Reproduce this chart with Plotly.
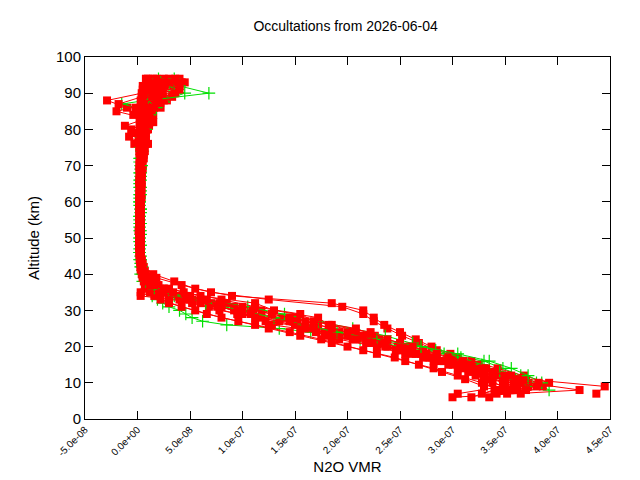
import plotly.graph_objects as go

# Altitude grids (km)
ALT_A = [6, 8, 10, 12, 14, 16, 18, 20, 22, 24, 26, 28, 30, 32, 34, 36, 38, 40, 42, 44,
         46, 48, 50, 52, 54, 56, 58, 60, 62, 64, 66, 68, 70, 72, 74, 76, 78, 80, 82, 84,
         86, 88, 90, 92, 94]
ALT_B = [7, 9, 11, 13, 15, 17, 19, 21, 23, 25, 27, 29, 31, 33, 35, 37, 39, 41, 43, 45,
         47, 49, 51, 53, 55, 57, 59, 61, 63, 65, 67, 69, 71, 73, 75, 77, 79, 81, 83, 85,
         87, 89, 91, 93]
ALT_G1 = [8, 10, 12, 14, 16, 18, 20, 22, 24, 25, 26, 27, 28, 29, 30, 31, 32, 33, 34, 36,
          38, 40, 42, 44, 46, 48, 50, 52, 54, 56, 58, 60, 62, 64, 66, 68, 70, 72, 74, 76,
          78, 80, 82, 84, 86, 88, 90, 92, 94]

# N2O VMR in ppbv (converted to VMR when plotted)
R1 = [300, 421, 372, 345, 322, 298, 270, 248, 205, 192, 150, 138, 92, 70, 38, 19, 10, 6, 4, 3,
      3, 2, 2, 3, 2, 2, 3, 3, 2, 3, 4, 3, 4, 5, 3, 6, 4, 9, 6, 12, 5, 28, 10, 22, 15]
R3 = [None, 345, 328, 305, 282, 255, 228, 200, 175, 145, 112, 80, 55, 30, 16, 9, 6, 4, 3, 2,
      2, 3, 2, 1, 2, 3, 2, 2, 3, 2, 3, 2, 3, 4, 2, -3, 5, 2, 8, -4, -10, -29, 4, 15, 30]
R5 = [None, None, 392, 368, 343, 318, 298, 280, 265, 250, 235, 225, 215, 185, 90, 55, 35, 15, 6, 4,
      3, 3, 2, 3, 3, 2, 2, 3, 4, 3, 2, 3, 5, 4, 6, 3, 7, 10, 4, 15, 22, 8, 35, 12, 40]
R7 = [None, 360, 338, 322, 305, 282, 255, 228, 192, 178, 128, 118, 78, 52, 30, 14, 7, 5, 3, 3,
      2, 2, 3, 2, 2, 2, 3, 2, 3, 3, 2, 4, 3, 2, 5, 8, 2, -6, 10, 6, -2, 25, 36, 5, 8]
R9 = [335, 352, 382, 356, 332, 310, 285, 262, 238, 222, 182, 172, 130, 112, 60, 30, 15, 8, 5, 4,
      3, 2, 3, 3, 2, 3, 2, 3, 2, 4, 3, 3, 2, 6, 4, 10, 6, 3, 12, 8, 16, 3, 20, 40, 36]
R11 = [318, 340, 360, 338, 315, 292, 265, 236, 208, 170, 160, 112, 95, 60, 3, 25, 9, 5, 4, 3,
       3, 2, 2, 2, 3, 2, 3, 2, 2, 3, 3, 4, 2, 3, 7, 4, -8, 6, 15, 3, 11, 20, 6, 26, 18]
R13 = [None, 355, 350, 330, 310, 288, 262, 238, 220, 200, 172, 150, 118, 85, 50, 22, 10, 6, 4, 3,
       3, 2, 3, 2, 3, 2, 2, 3, 3, 2, 3, 4, 3, 5, 4, 7, 3, 6, 11, 5, 9, 20, 14, 34, 25]
R15 = [None, 370, 365, 350, 328, 300, 275, 255, 230, 205, 185, 145, 110, 78, 45, 25, 12, 7, 4, 3,
       2, 3, 2, 2, 3, 3, 2, 2, 3, 3, 2, 3, 4, 3, 2, 5, 8, 4, 7, 14, 3, 15, 24, 18, 10]

R2 = [437, 445, 370, 338, 312, 285, 258, 230, 210, 165, 152, 110, 92, 52, 27, 13, 7, 5, 4, 3,
      3, 2, 3, 2, 3, 2, 3, 4, 3, 2, 4, 5, 3, 6, 4, 8, 5, 11, 7, 3, 16, 8, 38, 12]
R4 = [352, 372, 358, 342, 325, 305, 285, 268, 252, 238, 225, 215, 195, 125, 70, 42, 18, 7, 5, 3,
      3, 2, 3, 2, 2, 3, 2, 2, 3, 3, 2, 4, 3, 5, 2, 7, 4, 9, 5, 13, 7, 24, 15, 45]
R6 = [None, 330, 312, 290, 268, 245, 215, 185, 155, 125, 96, 66, 42, 22, 12, 7, 5, 3, 3, 2,
      2, 2, 3, 2, 2, 3, 2, 3, 2, 2, 3, 3, 4, 2, 4, 1, 6, -12, 8, -20, 10, 12, 5, 42]
R8 = [365, 386, 362, 340, 318, 296, 272, 250, 226, 208, 168, 155, 112, 80, 44, 20, 10, 6, 4, 3,
      2, 3, 3, 2, 3, 3, 2, 2, 3, 4, 3, 2, 4, 3, 6, 5, 3, 10, 13, 7, 19, 33, 9, 20]
R10 = [305, 348, 332, 315, 296, 272, 246, 218, 182, 168, 122, 108, 76, 46, 24, 12, 6, 4, 3, 3,
       2, 2, 2, 3, 2, 2, 3, 3, 2, 2, 3, 2, 3, 4, 2, 5, -2, 7, 2, 10, -18, 4, 14, 38]
R12 = [342, 380, 350, 328, 306, 280, 252, 224, 200, 160, 145, 100, 80, 50, 3, 14, 8, 5, 4, 3,
       3, 3, 2, 2, 3, 2, 2, 3, 3, 2, 4, 3, 3, 5, 4, 3, 8, 4, 12, 9, 5, 18, 40, 24]
R14 = [None, 362, 348, 330, 305, 278, 250, 218, 188, 155, 135, 95, 68, 40, 20, 9, 5, 4, 3, 2,
       3, 2, 2, 3, 2, 3, 2, 2, 3, 2, 3, 4, 2, 3, 5, 3, 7, 2, 9, 6, 12, 22, 10, 28]
R16 = [328, 358, 338, 322, 300, 276, 255, 235, 215, 185, 160, 128, 100, 66, 34, 16, 8, 5, 3, 3,
       2, 3, 2, 3, 2, 2, 3, 2, 3, 3, 2, 3, 3, 4, 2, 4, 6, 3, 8, 11, 6, 14, 20, 30]

G1 = [392, 380, 365, 348, 330, 292, 250, 212, 165, 135, 85, 62, 52, 46, 40, 30, 24, 19, 14, 9,
      5, 3, 3, 2, 2, 3, 2, 2, 3, 2, 3, 2, 2, 3, 3, 2, 4, 3, 5, 4, 6, 8, 5, 10, 14, 25, 45, 30, 20]
G2 = [None, 372, 360, 345, 328, 308, 284, 262, 236, 205, 172, 140, 105, 62, 30, 14, 7, 5, 3, 3,
      2, 2, 3, 2, 2, 3, 2, 2, 3, 2, 3, 3, 2, 4, 3, 5, 4, 7, 9, 12, -15, 30, 38, 22]
G3 = [None, None, 385, 372, 356, 335, 305, 270, 228, 190, 158, 130, 100, 65, 35, 16, 8, 5, 4, 3,
      2, 3, 2, 3, 2, 2, 3, 2, 3, 2, 2, 3, 3, 2, 4, 6, 3, 8, 5, 12, 18, 10, 68, 40, 35]

X_TICKS = [-5e-8, 0, 5e-8, 1e-7, 1.5e-7, 2e-7, 2.5e-7, 3e-7, 3.5e-7, 4e-7, 4.5e-7]
X_TICK_TEXT = ["-5.0e-08", "0.0e+00", "5.0e-08", "1.0e-07", "1.5e-07", "2.0e-07",
               "2.5e-07", "3.0e-07", "3.5e-07", "4.0e-07", "4.5e-07"]

red_profiles = [(R1, ALT_A), (R2, ALT_B), (R3, ALT_A), (R4, ALT_B), (R5, ALT_A), (R6, ALT_B),
                (R7, ALT_A), (R8, ALT_B), (R9, ALT_A), (R10, ALT_B), (R11, ALT_A), (R12, ALT_B),
                (R13, ALT_A), (R14, ALT_B), (R15, ALT_A), (R16, ALT_B)]
green_profiles = [(G1, ALT_G1), (G2, ALT_B), (G3, ALT_A)]


def to_vmr(vals):
    return [None if v is None else v * 1e-9 for v in vals]


fig = go.Figure()

order = [("r", 0), ("r", 1), ("r", 12), ("g", 0), ("r", 2), ("r", 3), ("r", 4), ("r", 13),
         ("g", 1), ("r", 5), ("r", 6), ("r", 7), ("r", 14), ("g", 2), ("r", 8), ("r", 9),
         ("r", 10), ("r", 11), ("r", 15)]
for kind, i in order:
    if kind == "r":
        vals, alt = red_profiles[i]
        fig.add_trace(go.Scatter(
            x=to_vmr(vals), y=alt, mode="lines+markers",
            line=dict(color="#ff0000", width=1),
            marker=dict(symbol="square", size=8, color="#ff0000", line=dict(width=0)),
            showlegend=False, connectgaps=False))
    else:
        vals, alt = green_profiles[i]
        fig.add_trace(go.Scatter(
            x=to_vmr(vals), y=alt, mode="lines+markers",
            line=dict(color="#00e000", width=1),
            marker=dict(symbol="cross-thin", size=9, color="#00e000",
                        line=dict(width=1.2, color="#00e000")),
            showlegend=False, connectgaps=False))

fig.update_layout(
    width=640, height=480,
    margin=dict(l=85, r=30, t=57, b=61),
    paper_bgcolor="white", plot_bgcolor="white",
    font=dict(family="Liberation Sans, Arial, sans-serif", color="black"),
    title=dict(text="Occultations from 2026-06-04", x=0.54, xanchor="center",
               y=0.945, yanchor="middle", font=dict(size=14)),
    showlegend=False,
)
fig.update_xaxes(
    range=[-5e-8, 4.5e-7], tickvals=X_TICKS, ticktext=X_TICK_TEXT, tickangle=-45,
    tickfont=dict(size=10), ticks="inside", ticklen=8, tickcolor="black",
    showline=True, linecolor="black", linewidth=1, mirror="allticks",
    showgrid=False, zeroline=False, automargin=False,
    title=dict(text="N2O VMR", font=dict(size=15), standoff=4),
)
fig.update_yaxes(
    range=[0, 100], dtick=10, tickfont=dict(size=15), ticks="inside", ticklen=8,
    tickcolor="black", showline=True, linecolor="black", linewidth=1, mirror="allticks",
    showgrid=False, zeroline=False, automargin=False,
    title=dict(text="Altitude (km)", font=dict(size=15), standoff=12),
)

fig.write_html("out.html")
